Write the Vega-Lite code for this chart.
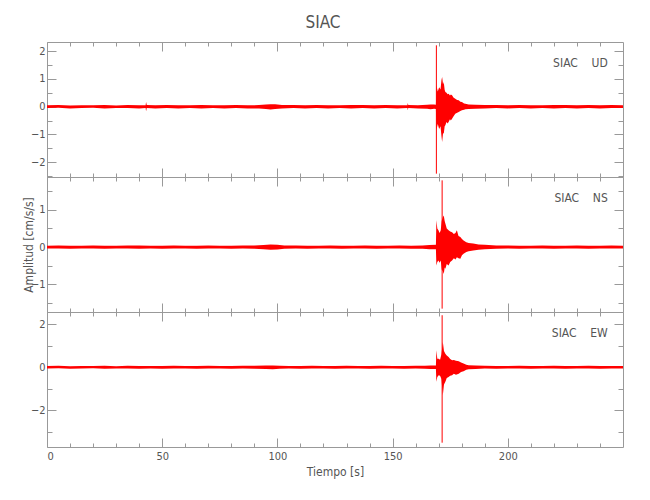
{
  "$schema": "https://vega.github.io/schema/vega-lite/v6.json",
  "padding": {"left": 21, "top": 14, "right": 5, "bottom": 5},
  "bounds": "flush",
  "spacing": 0,
  "title": {"text": "SIAC", "anchor": "middle", "fontSize": 17, "font": "Liberation Sans Narrow, DejaVu Sans Condensed, sans-serif", "color": "#555", "fontWeight": "normal", "offset": 9},
  "datasets": {
    "trace": [
      {"c":"UD","t":0,"lo":-0.05,"hi":0.05},{"c":"UD","t":5,"lo":-0.04,"hi":0.06},{"c":"UD","t":10,"lo":-0.06,"hi":0.04},{"c":"UD","t":15,"lo":-0.05,"hi":0.05},{"c":"UD","t":20,"lo":-0.04,"hi":0.05},{"c":"UD","t":25,"lo":-0.06,"hi":0.06},{"c":"UD","t":30,"lo":-0.05,"hi":0.04},{"c":"UD","t":35,"lo":-0.05,"hi":0.06},{"c":"UD","t":40,"lo":-0.06,"hi":0.05},{"c":"UD","t":42.8,"lo":-0.05,"hi":0.05},{"c":"UD","t":43,"lo":-0.16,"hi":0.17},{"c":"UD","t":43.3,"lo":-0.05,"hi":0.06},{"c":"UD","t":47,"lo":-0.06,"hi":0.05},{"c":"UD","t":52,"lo":-0.05,"hi":0.06},{"c":"UD","t":57,"lo":-0.06,"hi":0.05},{"c":"UD","t":62,"lo":-0.05,"hi":0.05},{"c":"UD","t":67,"lo":-0.06,"hi":0.06},{"c":"UD","t":72,"lo":-0.05,"hi":0.05},{"c":"UD","t":77,"lo":-0.06,"hi":0.05},{"c":"UD","t":82,"lo":-0.05,"hi":0.06},{"c":"UD","t":87,"lo":-0.06,"hi":0.05},{"c":"UD","t":92,"lo":-0.06,"hi":0.06},{"c":"UD","t":95,"lo":-0.08,"hi":0.08},{"c":"UD","t":97,"lo":-0.1,"hi":0.09},{"c":"UD","t":99,"lo":-0.08,"hi":0.09},{"c":"UD","t":102,"lo":-0.06,"hi":0.06},{"c":"UD","t":107,"lo":-0.05,"hi":0.06},{"c":"UD","t":112,"lo":-0.06,"hi":0.05},{"c":"UD","t":117,"lo":-0.05,"hi":0.06},{"c":"UD","t":122,"lo":-0.06,"hi":0.05},{"c":"UD","t":127,"lo":-0.05,"hi":0.05},{"c":"UD","t":132,"lo":-0.06,"hi":0.06},{"c":"UD","t":137,"lo":-0.05,"hi":0.06},{"c":"UD","t":142,"lo":-0.06,"hi":0.05},{"c":"UD","t":147,"lo":-0.05,"hi":0.06},{"c":"UD","t":152,"lo":-0.06,"hi":0.05},{"c":"UD","t":156.4,"lo":-0.05,"hi":0.05},{"c":"UD","t":156.6,"lo":-0.13,"hi":0.13},{"c":"UD","t":156.8,"lo":-0.05,"hi":0.06},{"c":"UD","t":161,"lo":-0.06,"hi":0.05},{"c":"UD","t":165,"lo":-0.07,"hi":0.07},{"c":"UD","t":166.5,"lo":-0.09,"hi":0.08},{"c":"UD","t":168,"lo":-0.07,"hi":0.08},{"c":"UD","t":168.8,"lo":-0.08,"hi":0.07},
      {"c":"UD","t":169.0,"lo":-0.85,"hi":0.77},{"c":"UD","t":169.6,"lo":-0.62,"hi":0.55},{"c":"UD","t":170.2,"lo":-0.8,"hi":0.7},{"c":"UD","t":170.8,"lo":-0.7,"hi":0.62},{"c":"UD","t":171.2,"lo":-1.05,"hi":0.95},{"c":"UD","t":171.5,"lo":-1.27,"hi":1.07},{"c":"UD","t":171.9,"lo":-0.95,"hi":0.8},{"c":"UD","t":172.2,"lo":-0.97,"hi":0.89},{"c":"UD","t":172.6,"lo":-0.7,"hi":0.6},{"c":"UD","t":172.9,"lo":-0.67,"hi":0.53},{"c":"UD","t":173.4,"lo":-0.55,"hi":0.5},{"c":"UD","t":173.9,"lo":-0.6,"hi":0.45},{"c":"UD","t":174.3,"lo":-0.55,"hi":0.47},{"c":"UD","t":174.9,"lo":-0.45,"hi":0.4},{"c":"UD","t":175.3,"lo":-0.5,"hi":0.44},{"c":"UD","t":175.8,"lo":-0.43,"hi":0.41},{"c":"UD","t":176.4,"lo":-0.35,"hi":0.33},{"c":"UD","t":177.2,"lo":-0.25,"hi":0.29},{"c":"UD","t":178,"lo":-0.22,"hi":0.24},{"c":"UD","t":178.7,"lo":-0.19,"hi":0.23},{"c":"UD","t":179.4,"lo":-0.15,"hi":0.18},{"c":"UD","t":180.1,"lo":-0.13,"hi":0.17},{"c":"UD","t":181,"lo":-0.11,"hi":0.12},{"c":"UD","t":181.6,"lo":-0.09,"hi":0.11},{"c":"UD","t":183,"lo":-0.08,"hi":0.08},{"c":"UD","t":186,"lo":-0.07,"hi":0.07},{"c":"UD","t":190,"lo":-0.06,"hi":0.06},{"c":"UD","t":195,"lo":-0.05,"hi":0.06},{"c":"UD","t":200,"lo":-0.06,"hi":0.05},{"c":"UD","t":205,"lo":-0.05,"hi":0.06},{"c":"UD","t":210,"lo":-0.06,"hi":0.05},{"c":"UD","t":215,"lo":-0.05,"hi":0.05},{"c":"UD","t":220,"lo":-0.06,"hi":0.06},{"c":"UD","t":225,"lo":-0.05,"hi":0.06},{"c":"UD","t":230,"lo":-0.06,"hi":0.05},{"c":"UD","t":235,"lo":-0.05,"hi":0.06},{"c":"UD","t":240,"lo":-0.06,"hi":0.05},{"c":"UD","t":245,"lo":-0.05,"hi":0.06},{"c":"UD","t":250,"lo":-0.05,"hi":0.05},

      {"c":"NS","t":0,"lo":-0.035,"hi":0.035},{"c":"NS","t":5,"lo":-0.035,"hi":0.045},{"c":"NS","t":10,"lo":-0.045,"hi":0.035},{"c":"NS","t":15,"lo":-0.035,"hi":0.035},{"c":"NS","t":20,"lo":-0.035,"hi":0.045},{"c":"NS","t":25,"lo":-0.045,"hi":0.035},{"c":"NS","t":30,"lo":-0.035,"hi":0.035},{"c":"NS","t":35,"lo":-0.035,"hi":0.045},{"c":"NS","t":40,"lo":-0.045,"hi":0.045},{"c":"NS","t":45,"lo":-0.035,"hi":0.035},{"c":"NS","t":50,"lo":-0.045,"hi":0.035},{"c":"NS","t":55,"lo":-0.035,"hi":0.045},{"c":"NS","t":60,"lo":-0.035,"hi":0.035},{"c":"NS","t":65,"lo":-0.045,"hi":0.035},{"c":"NS","t":70,"lo":-0.035,"hi":0.045},{"c":"NS","t":75,"lo":-0.035,"hi":0.035},{"c":"NS","t":80,"lo":-0.045,"hi":0.035},{"c":"NS","t":85,"lo":-0.035,"hi":0.045},{"c":"NS","t":90,"lo":-0.045,"hi":0.045},{"c":"NS","t":94,"lo":-0.055,"hi":0.055},{"c":"NS","t":97,"lo":-0.07,"hi":0.07},{"c":"NS","t":100,"lo":-0.065,"hi":0.06},{"c":"NS","t":103,"lo":-0.045,"hi":0.045},{"c":"NS","t":108,"lo":-0.035,"hi":0.045},{"c":"NS","t":113,"lo":-0.045,"hi":0.035},{"c":"NS","t":118,"lo":-0.035,"hi":0.035},{"c":"NS","t":123,"lo":-0.035,"hi":0.045},{"c":"NS","t":128,"lo":-0.045,"hi":0.035},{"c":"NS","t":133,"lo":-0.035,"hi":0.035},{"c":"NS","t":138,"lo":-0.035,"hi":0.045},{"c":"NS","t":143,"lo":-0.045,"hi":0.035},{"c":"NS","t":148,"lo":-0.035,"hi":0.035},{"c":"NS","t":153,"lo":-0.035,"hi":0.045},{"c":"NS","t":158,"lo":-0.045,"hi":0.035},{"c":"NS","t":163,"lo":-0.045,"hi":0.045},{"c":"NS","t":166,"lo":-0.055,"hi":0.055},{"c":"NS","t":168.8,"lo":-0.06,"hi":0.06},
      {"c":"NS","t":169.0,"lo":-0.49,"hi":0.72},{"c":"NS","t":169.4,"lo":-0.4,"hi":0.5},{"c":"NS","t":169.9,"lo":-0.36,"hi":0.45},{"c":"NS","t":170.4,"lo":-0.42,"hi":0.38},{"c":"NS","t":170.9,"lo":-0.36,"hi":0.45},{"c":"NS","t":171.3,"lo":-0.6,"hi":0.7},{"c":"NS","t":171.8,"lo":-0.65,"hi":0.8},{"c":"NS","t":172.2,"lo":-0.72,"hi":0.85},{"c":"NS","t":172.6,"lo":-0.55,"hi":0.7},{"c":"NS","t":172.9,"lo":-0.58,"hi":0.63},{"c":"NS","t":173.5,"lo":-0.45,"hi":0.5},{"c":"NS","t":174.3,"lo":-0.49,"hi":0.45},{"c":"NS","t":175,"lo":-0.4,"hi":0.42},{"c":"NS","t":175.8,"lo":-0.36,"hi":0.4},{"c":"NS","t":176.6,"lo":-0.3,"hi":0.35},{"c":"NS","t":177.3,"lo":-0.33,"hi":0.38},{"c":"NS","t":177.9,"lo":-0.27,"hi":0.45},{"c":"NS","t":178.6,"lo":-0.3,"hi":0.3},{"c":"NS","t":179.4,"lo":-0.31,"hi":0.27},{"c":"NS","t":180.1,"lo":-0.22,"hi":0.22},{"c":"NS","t":180.8,"lo":-0.18,"hi":0.18},{"c":"NS","t":182,"lo":-0.13,"hi":0.13},{"c":"NS","t":183,"lo":-0.11,"hi":0.11},{"c":"NS","t":185,"lo":-0.09,"hi":0.1},{"c":"NS","t":187.3,"lo":-0.07,"hi":0.07},{"c":"NS","t":190,"lo":-0.06,"hi":0.06},{"c":"NS","t":195,"lo":-0.045,"hi":0.045},{"c":"NS","t":200,"lo":-0.035,"hi":0.045},{"c":"NS","t":205,"lo":-0.045,"hi":0.035},{"c":"NS","t":210,"lo":-0.035,"hi":0.035},{"c":"NS","t":215,"lo":-0.035,"hi":0.045},{"c":"NS","t":220,"lo":-0.045,"hi":0.035},{"c":"NS","t":225,"lo":-0.035,"hi":0.035},{"c":"NS","t":230,"lo":-0.035,"hi":0.045},{"c":"NS","t":235,"lo":-0.045,"hi":0.035},{"c":"NS","t":240,"lo":-0.035,"hi":0.035},{"c":"NS","t":245,"lo":-0.035,"hi":0.045},{"c":"NS","t":250,"lo":-0.035,"hi":0.035},

      {"c":"EW","t":0,"lo":-0.06,"hi":0.06},{"c":"EW","t":5,"lo":-0.05,"hi":0.07},{"c":"EW","t":10,"lo":-0.07,"hi":0.05},{"c":"EW","t":15,"lo":-0.06,"hi":0.06},{"c":"EW","t":20,"lo":-0.05,"hi":0.06},{"c":"EW","t":25,"lo":-0.07,"hi":0.07},{"c":"EW","t":30,"lo":-0.06,"hi":0.05},{"c":"EW","t":35,"lo":-0.06,"hi":0.07},{"c":"EW","t":40,"lo":-0.07,"hi":0.06},{"c":"EW","t":45,"lo":-0.06,"hi":0.06},{"c":"EW","t":50,"lo":-0.07,"hi":0.06},{"c":"EW","t":55,"lo":-0.06,"hi":0.07},{"c":"EW","t":60,"lo":-0.06,"hi":0.06},{"c":"EW","t":65,"lo":-0.07,"hi":0.06},{"c":"EW","t":70,"lo":-0.06,"hi":0.07},{"c":"EW","t":75,"lo":-0.06,"hi":0.06},{"c":"EW","t":80,"lo":-0.07,"hi":0.06},{"c":"EW","t":85,"lo":-0.06,"hi":0.07},{"c":"EW","t":90,"lo":-0.07,"hi":0.07},{"c":"EW","t":95,"lo":-0.08,"hi":0.08},{"c":"EW","t":98,"lo":-0.09,"hi":0.08},{"c":"EW","t":101,"lo":-0.07,"hi":0.07},{"c":"EW","t":105,"lo":-0.06,"hi":0.06},{"c":"EW","t":110,"lo":-0.07,"hi":0.06},{"c":"EW","t":115,"lo":-0.06,"hi":0.07},{"c":"EW","t":120,"lo":-0.06,"hi":0.06},{"c":"EW","t":125,"lo":-0.07,"hi":0.06},{"c":"EW","t":130,"lo":-0.06,"hi":0.07},{"c":"EW","t":135,"lo":-0.06,"hi":0.06},{"c":"EW","t":140,"lo":-0.07,"hi":0.06},{"c":"EW","t":145,"lo":-0.06,"hi":0.07},{"c":"EW","t":150,"lo":-0.06,"hi":0.06},{"c":"EW","t":155,"lo":-0.07,"hi":0.06},{"c":"EW","t":160,"lo":-0.06,"hi":0.07},{"c":"EW","t":164,"lo":-0.07,"hi":0.07},{"c":"EW","t":166.5,"lo":-0.08,"hi":0.08},{"c":"EW","t":168.8,"lo":-0.08,"hi":0.08},
      {"c":"EW","t":169.0,"lo":-0.68,"hi":0.79},{"c":"EW","t":169.4,"lo":-0.45,"hi":0.4},{"c":"EW","t":170,"lo":-0.37,"hi":0.4},{"c":"EW","t":170.6,"lo":-0.4,"hi":0.35},{"c":"EW","t":171.2,"lo":-0.55,"hi":0.6},{"c":"EW","t":171.8,"lo":-1.3,"hi":1.18},{"c":"EW","t":172.3,"lo":-0.8,"hi":0.75},{"c":"EW","t":172.9,"lo":-0.68,"hi":0.63},{"c":"EW","t":173.5,"lo":-0.5,"hi":0.55},{"c":"EW","t":174.3,"lo":-0.45,"hi":0.48},{"c":"EW","t":175,"lo":-0.4,"hi":0.38},{"c":"EW","t":175.8,"lo":-0.37,"hi":0.33},{"c":"EW","t":176.6,"lo":-0.3,"hi":0.34},{"c":"EW","t":177.5,"lo":-0.35,"hi":0.3},{"c":"EW","t":178.7,"lo":-0.3,"hi":0.28},{"c":"EW","t":179.7,"lo":-0.22,"hi":0.22},{"c":"EW","t":180.8,"lo":-0.19,"hi":0.17},{"c":"EW","t":182,"lo":-0.12,"hi":0.12},{"c":"EW","t":183,"lo":-0.09,"hi":0.09},{"c":"EW","t":186,"lo":-0.08,"hi":0.08},{"c":"EW","t":190,"lo":-0.06,"hi":0.07},{"c":"EW","t":195,"lo":-0.07,"hi":0.06},{"c":"EW","t":200,"lo":-0.06,"hi":0.06},{"c":"EW","t":205,"lo":-0.06,"hi":0.07},{"c":"EW","t":210,"lo":-0.07,"hi":0.06},{"c":"EW","t":215,"lo":-0.06,"hi":0.06},{"c":"EW","t":220,"lo":-0.06,"hi":0.07},{"c":"EW","t":225,"lo":-0.07,"hi":0.06},{"c":"EW","t":230,"lo":-0.06,"hi":0.06},{"c":"EW","t":235,"lo":-0.06,"hi":0.07},{"c":"EW","t":240,"lo":-0.07,"hi":0.06},{"c":"EW","t":245,"lo":-0.06,"hi":0.06},{"c":"EW","t":250,"lo":-0.06,"hi":0.06}
    ],
    "spike": [
      {"c":"UD","t":169.0,"lo":-2.41,"hi":2.21},
      {"c":"NS","t":171.5,"lo":-1.65,"hi":1.79},
      {"c":"EW","t":171.5,"lo":-3.51,"hi":2.42}
    ],
    "lab": [
      {"c":"UD","t":243.4,"y":1.57,"s":"SIAC\u00a0\u00a0\u00a0\u00a0UD"},
      {"c":"NS","t":243.4,"y":1.31,"s":"SIAC\u00a0\u00a0\u00a0\u00a0NS"},
      {"c":"EW","t":243.4,"y":1.6,"s":"SIAC\u00a0\u00a0\u00a0\u00a0EW"}
    ]
  },
  "vconcat": [
    {
      "width": 576, "height": 135,
      "layer": [
        {"data": {"name": "trace"}, "transform": [{"filter": "datum.c == 'UD'"}],
         "mark": {"type": "area", "color": "#ff0000"},
         "encoding": {
           "x": {"field": "t", "type": "quantitative", "scale": {"domain": [0, 250], "nice": false, "zero": false},
                 "axis": {"orient": "bottom", "values": [0,10,20,30,40,50,60,70,80,90,100,110,120,130,140,150,160,170,180,190,200,210,220,230,240], "labels": false, "domain": false, "title": null, "tickSize": {"condition": {"test": "datum.value % 50 == 0", "value": -9}, "value": -4}}},
           "y": {"field": "hi", "type": "quantitative", "scale": {"domain": [-2.53, 2.33], "nice": false, "zero": false},
                 "axis": {"orient": "left", "values": [-2.5,-2,-1.5,-1,-0.5,0,0.5,1,1.5,2], "labelOverlap": false, "labelPadding": 11, "labelExpr": "datum.value % 1 == 0 ? replace(toString(datum.value), '-', '\u2212') : ''", "domain": false, "title": null, "tickSize": {"condition": {"test": "datum.value % 1 == 0", "value": -9}, "value": -5}}},
           "y2": {"field": "lo"}
         }},
        {"data": {"name": "spike"}, "transform": [{"filter": "datum.c == 'UD'"}],
         "mark": {"type": "rule", "color": "#ff0000", "strokeWidth": 1},
         "encoding": {
           "x": {"field": "t", "type": "quantitative",
                 "axis": {"orient": "top", "values": [0,10,20,30,40,50,60,70,80,90,100,110,120,130,140,150,160,170,180,190,200,210,220,230,240], "labels": false, "domain": false, "title": null, "tickSize": {"condition": {"test": "datum.value % 50 == 0", "value": -9}, "value": -4}}},
           "y": {"field": "hi", "type": "quantitative",
                 "axis": {"orient": "right", "values": [-2.5,-2,-1.5,-1,-0.5,0,0.5,1,1.5,2], "labels": false, "domain": false, "title": null, "tickSize": {"condition": {"test": "datum.value % 1 == 0", "value": -9}, "value": -5}}},
           "y2": {"field": "lo"}
         }},
        {"data": {"name": "lab"}, "transform": [{"filter": "datum.c == 'UD'"}],
         "mark": {"type": "text", "align": "right", "baseline": "middle", "font": "Liberation Sans Narrow, DejaVu Sans Condensed, sans-serif", "fontSize": 12, "color": "#555"},
         "encoding": {
           "x": {"field": "t", "type": "quantitative", "axis": null},
           "y": {"field": "y", "type": "quantitative", "axis": null},
           "text": {"field": "s"}
         }}
      ],
      "resolve": {"axis": {"x": "independent", "y": "independent"}}
    },
    {
      "width": 576, "height": 135,
      "layer": [
        {"data": {"name": "trace"}, "transform": [{"filter": "datum.c == 'NS'"}],
         "mark": {"type": "area", "color": "#ff0000"},
         "encoding": {
           "x": {"field": "t", "type": "quantitative", "scale": {"domain": [0, 250], "nice": false, "zero": false},
                 "axis": {"orient": "bottom", "values": [0,10,20,30,40,50,60,70,80,90,100,110,120,130,140,150,160,170,180,190,200,210,220,230,240], "labels": false, "domain": false, "title": null, "tickSize": {"condition": {"test": "datum.value % 50 == 0", "value": -9}, "value": -4}}},
           "y": {"field": "hi", "type": "quantitative", "scale": {"domain": [-1.74, 1.88], "nice": false, "zero": false},
                 "axis": {"orient": "left", "values": [-1.5,-1,-0.5,0,0.5,1,1.5], "labelOverlap": false, "labelPadding": 11, "labelExpr": "datum.value % 1 == 0 ? replace(toString(datum.value), '-', '\u2212') : ''", "domain": false, "title": "Amplitud [cm/s/s]", "titlePadding": -5, "tickSize": {"condition": {"test": "datum.value % 1 == 0", "value": -9}, "value": -5}}},
           "y2": {"field": "lo"}
         }},
        {"data": {"name": "spike"}, "transform": [{"filter": "datum.c == 'NS'"}],
         "mark": {"type": "rule", "color": "#ff0000", "strokeWidth": 1},
         "encoding": {
           "x": {"field": "t", "type": "quantitative",
                 "axis": {"orient": "top", "values": [0,10,20,30,40,50,60,70,80,90,100,110,120,130,140,150,160,170,180,190,200,210,220,230,240], "labels": false, "domain": false, "title": null, "tickSize": {"condition": {"test": "datum.value % 50 == 0", "value": -9}, "value": -4}}},
           "y": {"field": "hi", "type": "quantitative",
                 "axis": {"orient": "right", "values": [-1.5,-1,-0.5,0,0.5,1,1.5], "labels": false, "domain": false, "title": null, "tickSize": {"condition": {"test": "datum.value % 1 == 0", "value": -9}, "value": -5}}},
           "y2": {"field": "lo"}
         }},
        {"data": {"name": "lab"}, "transform": [{"filter": "datum.c == 'NS'"}],
         "mark": {"type": "text", "align": "right", "baseline": "middle", "font": "Liberation Sans Narrow, DejaVu Sans Condensed, sans-serif", "fontSize": 12, "color": "#555"},
         "encoding": {
           "x": {"field": "t", "type": "quantitative", "axis": null},
           "y": {"field": "y", "type": "quantitative", "axis": null},
           "text": {"field": "s"}
         }}
      ],
      "resolve": {"axis": {"x": "independent", "y": "independent"}}
    },
    {
      "width": 576, "height": 135,
      "layer": [
        {"data": {"name": "trace"}, "transform": [{"filter": "datum.c == 'EW'"}],
         "mark": {"type": "area", "color": "#ff0000"},
         "encoding": {
           "x": {"field": "t", "type": "quantitative", "scale": {"domain": [0, 250], "nice": false, "zero": false},
                 "axis": {"orient": "bottom", "values": [0,10,20,30,40,50,60,70,80,90,100,110,120,130,140,150,160,170,180,190,200,210,220,230,240], "format": "d", "labelOverlap": false, "labelPadding": 12, "labelExpr": "datum.value % 50 == 0 ? datum.label : ''", "domain": false, "title": "Tiempo [s]", "titlePadding": 0, "tickSize": {"condition": {"test": "datum.value % 50 == 0", "value": -9}, "value": -4}}},
           "y": {"field": "hi", "type": "quantitative", "scale": {"domain": [-3.71, 2.57], "nice": false, "zero": false},
                 "axis": {"orient": "left", "values": [-3,-2,-1,0,1,2], "labelOverlap": false, "labelPadding": 11, "labelExpr": "datum.value % 2 == 0 ? replace(toString(datum.value), '-', '\u2212') : ''", "domain": false, "title": null, "tickSize": {"condition": {"test": "datum.value % 2 == 0", "value": -9}, "value": -5}}},
           "y2": {"field": "lo"}
         }},
        {"data": {"name": "spike"}, "transform": [{"filter": "datum.c == 'EW'"}],
         "mark": {"type": "rule", "color": "#ff0000", "strokeWidth": 1},
         "encoding": {
           "x": {"field": "t", "type": "quantitative",
                 "axis": {"orient": "top", "values": [0,10,20,30,40,50,60,70,80,90,100,110,120,130,140,150,160,170,180,190,200,210,220,230,240], "labels": false, "domain": false, "title": null, "tickSize": {"condition": {"test": "datum.value % 50 == 0", "value": -9}, "value": -4}}},
           "y": {"field": "hi", "type": "quantitative",
                 "axis": {"orient": "right", "values": [-3,-2,-1,0,1,2], "labels": false, "domain": false, "title": null, "tickSize": {"condition": {"test": "datum.value % 2 == 0", "value": -9}, "value": -5}}},
           "y2": {"field": "lo"}
         }},
        {"data": {"name": "lab"}, "transform": [{"filter": "datum.c == 'EW'"}],
         "mark": {"type": "text", "align": "right", "baseline": "middle", "font": "Liberation Sans Narrow, DejaVu Sans Condensed, sans-serif", "fontSize": 12, "color": "#555"},
         "encoding": {
           "x": {"field": "t", "type": "quantitative", "axis": null},
           "y": {"field": "y", "type": "quantitative", "axis": null},
           "text": {"field": "s"}
         }}
      ],
      "resolve": {"axis": {"x": "independent", "y": "independent"}}
    }
  ],
  "config": {
    "view": {"stroke": "#999", "strokeWidth": 1},
    "axis": {"grid": false, "tickColor": "#999", "domainColor": "#999", "labelColor": "#555", "titleColor": "#555",
             "labelFont": "Liberation Sans Narrow, DejaVu Sans Condensed, sans-serif", "titleFont": "Liberation Sans Narrow, DejaVu Sans Condensed, sans-serif",
             "labelFontSize": 11, "titleFontSize": 12, "titleFontWeight": "normal"}
  }
}
